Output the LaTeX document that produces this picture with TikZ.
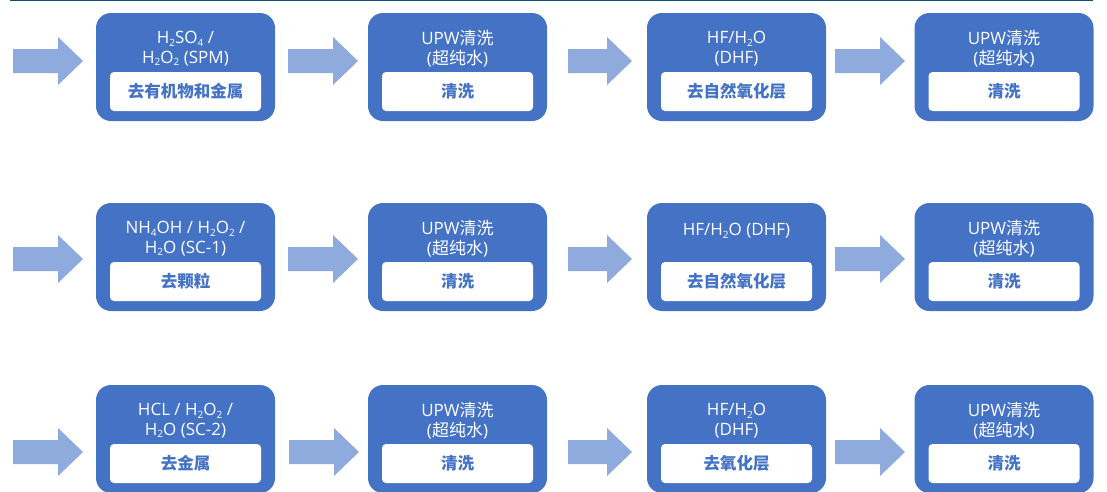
\documentclass[tikz,border=0pt]{standalone}
\usepackage{fontspec}
\setmainfont{Open Sans}
\newfontfamily\cjk{Noto Sans CJK SC}
\definecolor{boxblue}{HTML}{4472C4}
\definecolor{arrowblue}{HTML}{8FAADC}
\definecolor{toplinecol}{HTML}{12506F}
\newcommand\chsub[1]{\raisebox{-0.3ex}{\fontsize{10}{10}\selectfont #1}}
\newcommand\blockarrow[4]{%
  \fill[arrowblue] (#2,#4-12) -- (#3-25,#4-12) -- (#3-25,#4-24) -- (#3,#4)
    -- (#3-25,#4+24) -- (#3-25,#4+12) -- (#2,#4+12) -- cycle;
  \coordinate (#1) at (#3,#4);}
\newcommand\procbox[6]{%
  % #1 name, #2 center x, #3 top y, #4 top text, #5 top text y offset, #6 inner text
  \node[outerbox, anchor=north] (#1) at (#2,#3) {};
  \node[innerbox, anchor=north] (#1i) at ([yshift=-59pt]#1.north) {\cjk\bfseries #6};
  \node[toptext] (#1t) at ([yshift=-#5pt]#1.north) {#4};}
\begin{document}
\begin{tikzpicture}[x=1pt,y=-1pt,
  outerbox/.style={fill=boxblue, draw=none, rounded corners=15pt,
    minimum width=179pt, minimum height=108pt, inner sep=0pt, outer sep=0pt},
  innerbox/.style={fill=white, draw=none, rounded corners=4pt,
    minimum width=151pt, minimum height=39pt, inner sep=0pt, outer sep=0pt,
    text=boxblue, font=\fontsize{16.5}{19}\selectfont},
  toptext/.style={text=white, align=center, inner sep=0pt,
    font=\fontsize{17}{19.5}\selectfont}]
\useasboundingbox (0,0) rectangle (1107,491);
\coordinate (tl) at (10,0.6);
\coordinate (tr) at (1093,0.6);
\draw[toplinecol, line width=1.3pt] (tl) -- (tr);

% row 1
\blockarrow{a11}{13}{83}{61}
\blockarrow{a12}{288}{358}{61}
\blockarrow{a13}{568}{632}{61}
\blockarrow{a14}{835}{905}{61}
\procbox{b11}{185.5}{13}{H\chsub{2}SO\chsub{4} /\\H\chsub{2}O\chsub{2} (SPM)}{35.5}{去有机物和金属}
\procbox{b12}{457.5}{13}{UPW{\cjk 清洗}\\({\cjk 超纯水})}{35.5}{清洗}
\procbox{b13}{736.5}{13}{HF/H\chsub{2}O\\(DHF)}{35.5}{去自然氧化层}
\procbox{b14}{1004}{13}{UPW{\cjk 清洗}\\({\cjk 超纯水})}{35.5}{清洗}

% row 2
\blockarrow{a21}{13}{83}{259}
\blockarrow{a22}{288}{358}{259}
\blockarrow{a23}{568}{632}{259}
\blockarrow{a24}{835}{905}{259}
\procbox{b21}{185.5}{203}{NH\chsub{4}OH / H\chsub{2}O\chsub{2} /\\H\chsub{2}O (SC-1)}{35.5}{去颗粒}
\procbox{b22}{457.5}{203}{UPW{\cjk 清洗}\\({\cjk 超纯水})}{35.5}{清洗}
\procbox{b23}{736.5}{203}{HF/H\chsub{2}O (DHF)}{28}{去自然氧化层}
\procbox{b24}{1004}{203}{UPW{\cjk 清洗}\\({\cjk 超纯水})}{35.5}{清洗}

% row 3
\blockarrow{a31}{13}{83}{452}
\blockarrow{a32}{289}{359}{452}
\blockarrow{a33}{568}{632}{452}
\blockarrow{a34}{835}{905}{452}
\procbox{b31}{185.5}{385}{HCL / H\chsub{2}O\chsub{2} /\\H\chsub{2}O (SC-2)}{35.5}{去金属}
\procbox{b32}{457.5}{385}{UPW{\cjk 清洗}\\({\cjk 超纯水})}{35.5}{清洗}
\procbox{b33}{736.5}{385}{HF/H\chsub{2}O\\(DHF)}{35.5}{去氧化层}
\procbox{b34}{1004}{385}{UPW{\cjk 清洗}\\({\cjk 超纯水})}{35.5}{清洗}
\end{tikzpicture}
\end{document}
